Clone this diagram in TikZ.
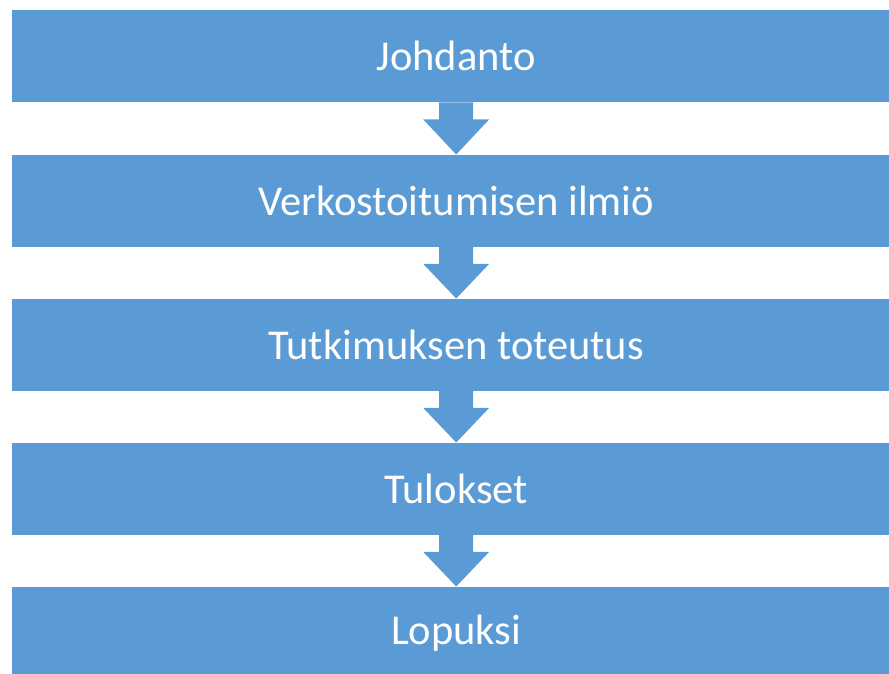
\documentclass[tikz,border=0pt]{standalone}
\usepackage{fontspec}
\setmainfont{Carlito}
\definecolor{boxblue}{HTML}{5B9BD5}
\begin{document}
\begin{tikzpicture}[x=1pt,y=-1pt,
  stagebox/.style={fill=boxblue,draw=none,minimum width=888pt,minimum height=92pt,anchor=north west,inner sep=0pt,text=white,font=\fontsize{42.5}{46}\selectfont},
  downarrow/.style={fill=boxblue,draw=none}]
\useasboundingbox (0,0) rectangle (889,673);
\clip (0,0) rectangle (889,673);
\node[stagebox] (b1) at (12,10) {Johdanto};
\node[stagebox] (b2) at (12,154.5) {Verkostoitumisen ilmiö};
\node[stagebox] (b3) at (12,298.5) {Tutkimuksen toteutus};
\node[stagebox] (b4) at (12,442.5) {Tulokset};
\node[stagebox] (b5) at (12,586.5) {Lopuksi};
\foreach \a/\b in {b1/b2,b2/b3,b3/b4,b4/b5}{
  \fill[boxblue] ([xshift=-17pt]\a.south) -- ([xshift=17pt]\a.south)
    -- ([xshift=17pt,yshift=-17pt]\a.south) -- ([xshift=33pt,yshift=-17pt]\a.south)
    -- (\b.north) -- ([xshift=-33pt,yshift=-17pt]\a.south)
    -- ([xshift=-17pt,yshift=-17pt]\a.south) -- cycle;
}
\end{tikzpicture}
\end{document}
